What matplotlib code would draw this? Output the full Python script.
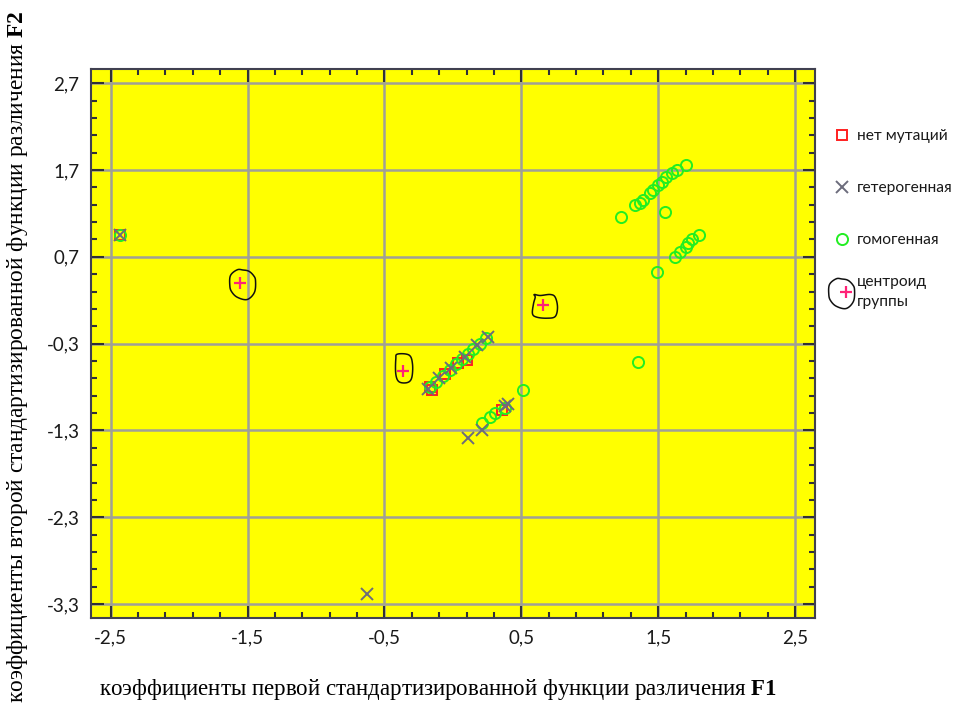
import numpy as np
import matplotlib
matplotlib.use("Agg")
import matplotlib.pyplot as plt
from matplotlib.path import Path
from matplotlib.lines import Line2D
from matplotlib.ticker import FixedLocator
from matplotlib.legend_handler import HandlerTuple

plt.rcParams['mathtext.fontset'] = 'custom'
plt.rcParams['mathtext.rm'] = 'Liberation Serif'
plt.rcParams['mathtext.bf'] = 'Liberation Serif:bold'

# ---------------- data ----------------
no_mut_x = [-2.43, -0.17, -0.15, -0.06, 0.04, 0.10, 0.36]
no_mut_y = [0.95, -0.80, -0.83, -0.65, -0.52, -0.49, -1.06]

hetero_x = [-2.43, -0.63, -0.18, -0.10, -0.01, 0.09, 0.18, 0.26, 0.11, 0.21, 0.38, 0.40]
hetero_y = [0.95, -3.18, -0.82, -0.70, -0.58, -0.45, -0.32, -0.22, -1.39, -1.29, -1.02, -1.00]

homo_x = [-2.43,
          -0.17, -0.12, -0.07, -0.02, 0.02, 0.07, 0.11, 0.15, 0.20, 0.24,
          0.21, 0.27, 0.31, 0.38, 0.51,
          1.23, 1.33, 1.37, 1.39, 1.44, 1.46, 1.50, 1.53, 1.56, 1.60, 1.64, 1.70, 1.55,
          1.62, 1.66, 1.70, 1.72, 1.75, 1.80, 1.49, 1.35]
homo_y = [0.95,
          -0.80, -0.74, -0.67, -0.60, -0.54, -0.48, -0.42, -0.36, -0.30, -0.24,
          -1.21, -1.14, -1.10, -1.04, -0.83,
          1.16, 1.30, 1.32, 1.36, 1.44, 1.47, 1.53, 1.56, 1.62, 1.67, 1.70, 1.76, 1.22,
          0.70, 0.76, 0.81, 0.86, 0.90, 0.95, 0.53, -0.51]

centroid_x = [-1.555, -0.367, 0.658]
centroid_y = [0.40, -0.61, 0.146]

x_ticks = [-2.5, -1.5, -0.5, 0.5, 1.5, 2.5]
x_ticklabels = ["-2,5", "-1,5", "-0,5", "0,5", "1,5", "2,5"]
y_ticks = [2.7, 1.7, 0.7, -0.3, -1.3, -2.3, -3.3]
y_ticklabels = ["2,7", "1,7", "0,7", "-0,3", "-1,3", "-2,3", "-3,3"]

legend_labels = ["нет мутаций", "гетерогенная", "гомогенная", "центроид\nгруппы"]
x_label = "коэффициенты первой стандартизированной функции различения $\\mathbf{F1}$"
y_label = "коэффициенты второй стандартизированной функции различения $\\mathbf{F2}$"

# ---------------- style ----------------
DPI = 100
YELLOW = '#ffff00'
GRID = '#a0a096'
RED = '#ff2020'
GRAY = '#6c6c7c'
GREEN = '#22ee22'
PINK = '#ff2277'


def smooth_blob(pts, n=120):
    """closed Catmull-Rom curve through outline points (pixel units, relative)"""
    p = np.asarray(pts, float)
    m = len(p)
    out = []
    for i in range(m):
        p0, p1, p2, p3 = p[i - 1], p[i], p[(i + 1) % m], p[(i + 2) % m]
        for t in np.linspace(0, 1, n // m, endpoint=False):
            t2, t3 = t * t, t * t * t
            out.append(0.5 * ((2 * p1) + (-p0 + p2) * t + (2 * p0 - 5 * p1 + 4 * p2 - p3) * t2
                              + (-p0 + 3 * p1 - 3 * p2 + p3) * t3))
    out.append(out[0])
    return np.array(out)


blob_shapes = [
    [(-3.3, 13.7), (2.5, 13.5), (8.3, 12.3), (13, 8), (15, 3), (14, -8.7), (6.7, -16),
     (-3.3, -13.7), (-9, -8), (-10.7, -2), (-10, 8)],
    [(-6, 17.4), (5.6, 16.4), (9, 7.4), (8.3, -6), (4, -11), (-4.4, -10.3), (-7.7, -2.6), (-7.7, 12.4)],
    [(-9.3, 11), (-3.3, 10), (6.7, 11), (11.7, 8.3), (14, -1.7), (11.7, -11), (3.4, -12.7),
     (-6.6, -11.7), (-11, -8.3), (-10, 1.7), (-8.3, 8.3)],
]


def blob_marker(pts):
    v = smooth_blob(pts)
    ms = 2 * np.abs(v).max() * 72.0 / DPI
    return Path(v), ms


fig = plt.figure(figsize=(9.56, 7.13), dpi=DPI)
ax = fig.add_axes([90.7 / 956, 1 - 618 / 713, (815 - 90.7) / 956, (618 - 69.3) / 713])
ax.set_facecolor(YELLOW)
ax.set_xlim(-2.646, 2.646)
ax.set_ylim(-3.46, 2.86)

ax.xaxis.set_major_locator(FixedLocator(x_ticks))
ax.yaxis.set_major_locator(FixedLocator(y_ticks))
ax.xaxis.set_minor_locator(FixedLocator(np.round(np.arange(-2.5, 2.51, 0.2), 2)))
ax.yaxis.set_minor_locator(FixedLocator(np.round(np.arange(2.7, -3.41, -0.2), 2)))
ax.set_xticklabels(x_ticklabels)
ax.set_yticklabels(y_ticklabels)
ax.tick_params(which='both', direction='in', top=True, right=True, color='#303038', width=1.5)
ax.tick_params(which='major', length=9, labelsize=13.5, labelcolor='#1a1a1a')
ax.tick_params(which='minor', length=4.5)
ax.tick_params(axis='x', which='major', pad=8)
ax.tick_params(axis='y', which='major', pad=8)
for lab in ax.get_xticklabels() + ax.get_yticklabels():
    lab.set_family('Lato')

ax.grid(True, which='major', color=GRID, lw=1.8, zorder=0)
ax.set_axisbelow(True)
for s in ax.spines.values():
    s.set_color('#404050')
    s.set_linewidth(1.5)

ax.plot(no_mut_x, no_mut_y, ls='', marker='s', ms=7, mfc='none', mec=RED, mew=1.4, zorder=3)
ax.plot(hetero_x, hetero_y, ls='', marker='x', ms=8, mec=GRAY, mew=1.4, zorder=4)
ax.plot(homo_x, homo_y, ls='', marker='o', ms=8, mfc='none', mec=GREEN, mew=1.4, zorder=3)

for cx, cy, shp in zip(centroid_x, centroid_y, blob_shapes):
    path, ms = blob_marker(shp)
    ax.plot([cx], [cy], ls='', marker=path, ms=ms, mfc='none', mec='#111111', mew=1.1, zorder=5)
ax.plot(centroid_x, centroid_y, ls='', marker='+', ms=9, mec=PINK, mew=1.6, zorder=6)

# legend (series entries)
leg_kw = dict(bbox_transform=fig.transFigure, frameon=False, borderpad=0, borderaxespad=0,
              handlelength=1.0, handletextpad=0.45, prop={'family': 'Lato', 'size': 11.2})
handles = [
    Line2D([], [], ls='', marker='s', ms=7, mfc='none', mec=RED, mew=1.4),
    Line2D([], [], ls='', marker='x', ms=8, mec=GRAY, mew=1.4),
    Line2D([], [], ls='', marker='o', ms=8, mfc='none', mec=GREEN, mew=1.4),
]
leg = ax.legend(handles, legend_labels[:3], loc='upper left',
                bbox_to_anchor=(834.7 / 956, 1 - 129 / 713), labelspacing=2.45, **leg_kw)
for t in leg.get_texts():
    t.set_color('#1a1a1a')
ax.add_artist(leg)

# legend (centroid entry)
lpath, lms = blob_marker(blob_shapes[0])
leg2 = ax.legend([(Line2D([], [], ls='', marker=lpath, ms=lms, mfc='none', mec='#111111', mew=1.1),
                   Line2D([], [], ls='', marker='+', ms=9, mec=PINK, mew=1.6))],
                 legend_labels[3:], loc='center left',
                 bbox_to_anchor=(834.7 / 956, 1 - 292 / 713),
                 handler_map={tuple: HandlerTuple(ndivide=None)}, **leg_kw)
for t in leg2.get_texts():
    t.set_color('#1a1a1a')
    t.set_linespacing(1.55)

fig.text(438 / 956, 1 - 690 / 713, x_label, ha='center', va='center',
         family='Liberation Serif', fontsize=16.5)
fig.text(18 / 956, 1 - 357 / 713, y_label, ha='center', va='center', rotation=90,
         family='Liberation Serif', fontsize=16.8)

fig.savefig('out.png', dpi=DPI, facecolor='white')
